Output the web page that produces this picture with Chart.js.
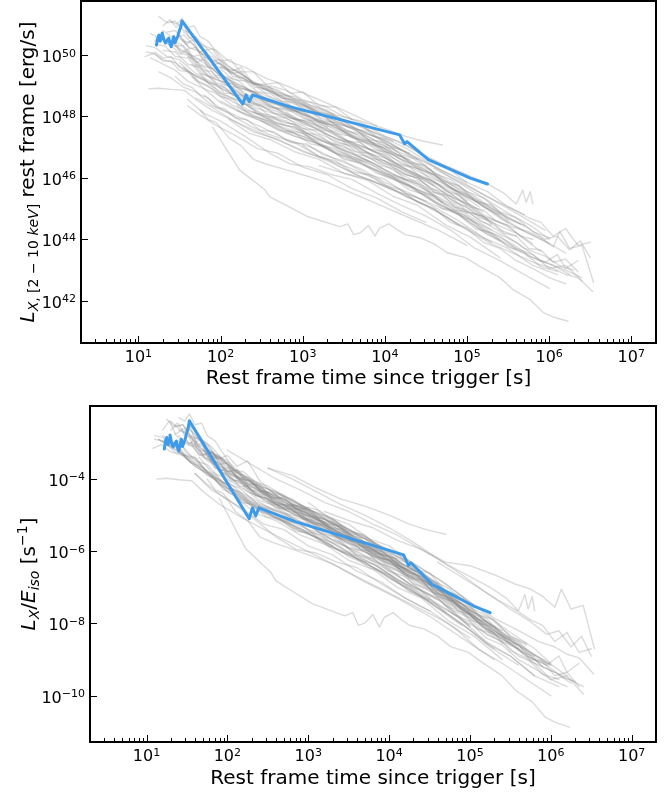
<!DOCTYPE html>
<html><head><meta charset="utf-8">
<script src="https://cdn.jsdelivr.net/npm/chart.js@4.4.1/dist/chart.umd.min.js"></script>
<style>body{margin:0;background:#fff}canvas{display:block}</style>
</head><body>
<canvas id="c1" width="671" height="400"></canvas>
<canvas id="c2" width="671" height="396"></canvas>
<script>
// ---------- axis ranges / ticks (log10 exponents) ----------
const xMin = 2, xMax = 2e7;
const xTickExps = [1, 2, 3, 4, 5, 6, 7];
const topYTickExps = [42, 44, 46, 48, 50];
const botYTickExps = [-10, -8, -6, -4];
const topYRange = [40.62, 51.76];
const botYRange = [-11.28, -1.98];

// ---------- highlighted burst (log10 t [s], log10 L [erg/s]) ----------
const blueLogT = [1.22,1.235,1.25,1.265,1.28,1.29,1.31,1.33,1.35,1.37,1.385,1.40,1.415,1.43,1.445,1.46,1.48,1.50,1.515,1.53,2.27,2.31,2.35,2.39,2.84,4.18,4.24,4.27,4.53,5.04,5.25];
const blueLogL = [50.33,50.55,50.65,50.45,50.54,50.72,50.50,50.39,50.48,50.55,50.35,50.27,50.45,50.60,50.40,50.49,50.62,50.81,50.90,51.11,48.40,48.70,48.48,48.70,48.32,47.40,47.11,47.18,46.59,45.99,45.80];
const blueLogE = 53.5; // log10 Eiso

// ---------- sample of bursts: log10 t, log10 L, log10 Eiso ----------
const greyLogT = [
 [1.30,1.42,1.55,1.70,1.85,2.00,2.25,2.50,2.80,3.10,3.40,3.70,4.00,4.20,4.40],
 [1.25,1.35,1.45,1.55,1.65,1.80,1.95,2.10,2.30,2.55,2.85,3.15,3.50,3.90],
 [1.10,1.20,1.35,1.50,1.70,1.90,2.15,2.40,2.70,3.00,3.35,3.70,4.05,4.40,4.80,5.05,5.30],
 [1.15,1.30,1.45,1.60,1.80,2.00,2.30,2.60,2.90,3.20,3.50,3.85,4.20,4.55,4.90,5.25,5.60],
 [1.13,1.25,1.40,1.56,1.70,1.90,2.20,2.50,2.90,3.30,3.70,4.10,4.50,4.90,5.30],
 [1.90,2.23,2.54,2.60,2.80,3.05,3.45,3.55,3.62,3.70,3.80,3.88,3.94,4.05,4.15,4.25,4.43,4.60,4.76,4.98,5.16,5.40,5.56,5.77,5.93,6.07,6.23],
 [1.75,1.85,1.95,2.10,2.25,2.40,2.55,2.75,3.00,3.30,3.60,3.95,4.30,4.65,5.00],
 [1.60,1.80,2.00,2.30,2.60,2.85,3.10,3.35,3.60,3.90,4.20,4.50,4.80,5.10,5.40,5.70,6.00],
 [1.45,1.60,1.75,1.90,2.10,2.35,2.65,3.00,3.35,3.70,4.05,4.40,4.75,5.10,5.45,5.75,6.00],
 [1.55,1.70,1.85,2.05,2.30,2.60,2.95,3.30,3.65,4.00,4.35,4.70,5.05,5.40,5.70,5.95,6.15,6.30],
 [1.35,1.45,1.55,1.65,1.75,1.90,2.05,2.20,2.40,2.60,2.85,3.10,3.40,3.70,4.00,4.30,4.65,5.00],
 [1.20,1.32,1.45,1.60,1.78,2.00,2.25,2.55,2.85,3.15,3.45,3.80,4.15,4.50,4.85,5.20,5.50,5.80],
 [1.70,1.90,2.10,2.40,2.70,3.00,3.30,3.65,4.00,4.35,4.70,5.00,5.30,5.60,5.85,6.05,6.20,6.35,6.53],
 [2.00,2.30,2.60,2.90,3.20,3.50,3.80,4.10,4.40,4.70,5.00,5.25,5.45,5.60,5.68,5.72,5.77,5.80],
 [1.08,1.18,1.30,1.45,1.60,1.80,2.05,2.35,2.65,3.00,3.35,3.70,4.00,4.30,4.60],
 [1.50,1.62,1.75,1.88,2.00,2.12,2.25,2.40,2.60,2.85,3.15,3.50,3.85,4.20,4.55,4.90,5.20,5.50],
 [1.65,1.80,1.95,2.15,2.40,2.70,3.00,3.30,3.60,3.90,4.25,4.60,4.95,5.30],
 [1.25,1.40,1.55,1.70,1.90,2.10,2.35,2.60,2.90,3.20,3.55,3.90,4.25,4.60,4.90],
 [2.30,2.50,2.75,3.00,3.30,3.60,3.90,4.20,4.50,4.80,5.10,5.40,5.70,5.95,6.20],
 [2.00,2.20,2.45,2.70,3.00,3.30,3.60,3.95,4.30,4.65,5.00,5.30,5.60,5.90],
 [2.60,2.80,3.00,3.25,3.50,3.75,4.00,4.25,4.50,4.75,5.00,5.25,5.50,5.70],
 [1.40,1.47,1.53,1.60,1.68,1.75,1.85,1.95,2.10,2.30,2.55,2.85,3.20,3.60,3.90,4.20],
 [1.50,1.65,1.80,2.00,2.25,2.50,2.80,3.10,3.45,3.80],
 [1.80,2.00,2.25,2.50,2.80,3.10,3.40,3.70,4.00,4.30,4.60,4.90,5.20,5.50,5.80,6.10],
 [1.30,1.45,1.60,1.75,1.95,2.15,2.40,2.70,3.00,3.30,3.60,3.95,4.30,4.65,5.00],
 [2.40,2.65,2.90,3.20,3.50,3.80,4.10,4.40,4.70,5.00,5.30,5.60,5.90,6.15,6.40],
 [2.50,2.80,3.10,3.40,3.70,4.00,4.25,4.46,4.70],
 [1.60,1.75,1.95,2.20,2.45,2.70,3.00,3.30,3.60,3.90,4.20,4.50],
 [2.10,2.35,2.60,2.90,3.20,3.50,3.80,4.10,4.40,4.75,5.05,5.40],
 [1.15,1.25,1.38,1.50,1.65,1.82,2.00,2.25,2.55,2.90,3.30],
 [3.00,3.25,3.50,3.75,4.00,4.30,4.60,4.90,5.20,5.50,5.80,6.00],
 [1.70,1.85,2.05,2.30,2.60,2.90,3.20,3.50,3.85,4.20,4.55,4.90,5.20],
 [2.20,2.50,2.80,3.10,3.40,3.70,4.00,4.30,4.60,4.90,5.20,5.50,5.75,5.95,6.10,6.20,6.35],
 [2.50,2.80,3.10,3.40,3.70,4.00,4.30,4.60,4.90,5.20,5.50,5.75,5.95,6.10,6.25,6.38,6.50],
 [3.20,3.50,3.80,4.10,4.40,4.70,5.00,5.30,5.55,5.75,5.90,6.05,6.13,6.25,6.40,6.54],
 [1.20,1.30,1.40,1.50,1.62,1.75,1.90,2.10,2.35,2.65,3.00,3.40,3.80,4.20,4.60,5.00],
 [1.85,2.00,2.20,2.45,2.75,3.05,3.35,3.65,3.95,4.30,4.65,5.00,5.35,5.65],
 [2.80,3.05,3.30,3.55,3.80,4.05,4.30,4.55,4.80,5.05,5.30,5.55,5.80,6.05,6.25],
 [1.40,1.52,1.65,1.80,1.98,2.20,2.45,2.75,3.05,3.40,3.75,4.10,4.45,4.80,5.15],
 [2.00,2.25,2.50,2.80,3.10,3.40,3.70,4.00,4.35,4.70,5.05,5.40],
 [1.55,1.68,1.80,1.95,2.15,2.40,2.70,3.00,3.30,3.65,4.00,4.40,4.80,5.20,5.60,5.95],
 [1.35,1.45,1.55,1.65,1.75,1.85,1.95,2.05,2.20,2.35,2.50,2.65,2.80,2.95,3.10,3.25,3.40,3.55,3.70,3.85,4.00,4.15,4.30],
 [1.60,1.70,1.80,1.90,2.00,2.15,2.30,2.45,2.60,2.80,3.00,3.20,3.40,3.60,3.80,4.00,4.20,4.40,4.60,4.80,5.00],
 [2.30,2.45,2.60,2.75,2.90,3.05,3.20,3.35,3.50,3.65,3.80,3.95,4.10,4.25,4.40,4.55,4.70,4.85,5.00,5.15,5.30],
 [1.20,1.28,1.36,1.44,1.52,1.60,1.70,1.80,1.92,2.05,2.20,2.40,2.60,2.85,3.10,3.40,3.70,4.00,4.30,4.60,4.90,5.20,5.50],
 [1.75,1.85,1.95,2.05,2.15,2.30,2.45,2.60,2.80,3.00,3.20,3.40,3.60,3.80,4.00,4.20,4.40,4.60,4.80,5.00,5.20,5.40,5.60],
 [2.00,2.15,2.30,2.45,2.60,2.75,2.90,3.05,3.20,3.40,3.60,3.80,4.00,4.20,4.40,4.60,4.80,5.00,5.20,5.40,5.60,5.80,6.00],
 [1.50,1.58,1.66,1.74,1.82,1.90,2.00,2.12,2.25,2.40,2.55,2.70,2.90,3.10,3.30,3.50,3.70,3.90,4.10],
 [2.50,2.70,2.90,3.10,3.30,3.50,3.70,3.90,4.10,4.30,4.50,4.70,4.90,5.10,5.30,5.50,5.70,5.90,6.10],
 [1.30,1.38,1.46,1.54,1.62,1.70,1.80,1.90,2.00,2.12,2.25,2.40,2.55,2.70,2.85,3.00,3.20,3.40,3.60],
 [2.80,2.95,3.10,3.25,3.40,3.55,3.70,3.85,4.00,4.15,4.30,4.45,4.60,4.75,4.90,5.05,5.20,5.35,5.50,5.65,5.80],
 [1.10,1.20,1.30,1.40,1.50,1.60,1.72,1.85,2.00,2.15,2.30,2.50,2.70,2.90,3.10,3.35,3.60,3.85,4.10,4.40,4.70],
 [3.50,3.65,3.80,3.95,4.10,4.25,4.40,4.55,4.70,4.85,5.00,5.15,5.30,5.45,5.60,5.75,5.90,6.05,6.20,6.35],
 [1.45,1.55,1.65,1.75,1.85,1.95,2.05,2.18,2.32,2.48,2.65,2.85,3.05,3.25,3.50,3.75,4.00,4.25,4.50],
 [2.10,2.25,2.40,2.55,2.70,2.85,3.00,3.20,3.40,3.60,3.80,4.00,4.20,4.40,4.60,4.80,5.00,5.20,5.40],
 [1.65,1.75,1.85,1.95,2.05,2.15,2.25,2.35,2.50,2.65,2.80,3.00,3.20,3.40,3.60,3.80,4.00,4.25,4.50,4.75,5.00,5.25],
 [3.00,3.20,3.40,3.60,3.80,4.00,4.20,4.40,4.60,4.80,5.00,5.20,5.40,5.60,5.80,6.00,6.20],
 [1.40,1.50,1.60,1.70,1.80,1.90,2.00,2.10,2.20,2.35,2.50,2.70,2.90,3.10,3.30],
 [2.20,2.40,2.60,2.80,3.00,3.20,3.40,3.60,3.80,4.00,4.20,4.40,4.60,4.80,5.00,5.20,5.40,5.60,5.80,6.00,6.20,6.40],
 [1.55,1.62,1.70,1.78,1.86,1.95,2.05,2.15,2.28,2.42,2.58,2.75,2.95,3.15,3.35,3.55,3.80,4.05,4.30],
 [3.30,3.50,3.70,3.90,4.10,4.30,4.50,4.70,4.90,5.10,5.30,5.50,5.70],
 [4.60,4.85,5.10,5.35,5.55,5.75,5.90,6.05,6.20,6.35,6.50]
];
const greyLogL = [
 [50.80,50.55,50.65,50.25,49.85,49.70,49.20,49.00,48.60,48.25,47.85,47.55,47.20,46.90,46.60],
 [51.25,51.05,51.10,50.80,50.70,50.30,50.15,49.80,49.60,49.25,48.95,48.60,48.20,47.70],
 [50.30,50.25,49.95,49.85,49.40,49.10,48.70,48.30,48.05,47.70,47.25,46.90,46.40,45.95,45.30,44.95,44.50],
 [49.90,49.70,49.50,49.15,48.90,48.45,48.05,47.75,47.35,47.10,46.65,46.30,45.85,45.30,44.80,44.15,43.65],
 [48.90,48.92,48.88,48.85,48.55,48.20,47.80,47.45,47.00,46.55,46.05,45.60,45.10,44.50,43.90],
 [47.66,46.26,45.61,45.38,45.10,44.75,44.41,44.50,44.15,44.21,44.45,44.10,44.37,44.50,44.31,44.15,44.05,43.85,43.56,43.40,43.11,42.75,42.36,42.03,41.61,41.45,41.33],
 [48.20,47.90,47.80,47.30,47.05,46.60,46.45,46.30,46.10,45.85,45.50,45.10,44.70,44.30,43.80],
 [48.55,48.10,47.85,47.35,46.80,46.45,46.35,46.10,45.95,45.50,45.10,44.75,44.30,43.70,43.30,42.85,42.40],
 [50.30,50.05,49.70,49.55,49.10,48.85,48.40,48.15,47.70,47.25,46.80,46.35,45.75,45.25,44.60,44.20,43.85],
 [49.60,49.30,49.10,48.70,48.40,47.95,47.70,47.20,46.85,46.40,45.90,45.40,44.80,44.25,43.70,43.45,43.10,43.00],
 [50.75,50.80,50.45,50.40,50.05,49.95,49.55,49.50,49.10,48.95,48.60,48.45,48.00,47.70,47.30,46.90,46.30,45.85],
 [50.35,50.30,49.95,49.90,49.40,49.15,48.70,48.45,47.95,47.75,47.30,46.95,46.45,45.95,45.50,44.80,44.40,43.85],
 [48.60,48.30,47.95,47.50,47.25,46.85,46.60,46.10,45.75,45.30,44.80,44.30,43.85,43.50,43.20,43.05,42.85,42.75,42.30],
 [49.60,49.20,48.80,48.50,48.15,47.90,47.55,47.25,46.85,46.45,46.10,45.80,45.50,45.15,45.60,45.20,45.55,45.15],
 [49.95,50.05,49.85,49.75,49.45,49.20,48.85,48.45,48.20,47.80,47.35,46.95,46.55,46.15,45.75],
 [50.55,50.25,50.10,49.65,49.75,49.45,49.60,49.05,48.65,48.35,48.05,47.60,47.15,46.70,46.25,45.60,45.15,44.65],
 [49.30,48.90,48.75,48.35,48.05,47.70,47.45,47.00,46.70,46.35,45.80,45.40,44.75,44.30],
 [49.45,49.25,48.95,48.80,48.35,48.10,47.70,47.40,47.15,46.70,46.35,45.95,45.40,45.00,44.45],
 [48.90,48.55,48.40,48.05,47.80,47.35,47.05,46.60,46.25,45.70,45.25,44.75,44.25,43.95,43.55],
 [49.00,48.70,48.40,48.05,47.85,47.40,47.10,46.60,46.20,45.65,45.10,44.55,44.20,43.60],
 [49.00,48.85,48.55,48.35,48.00,47.75,47.35,47.10,46.65,46.35,45.85,45.55,45.05,44.80],
 [51.10,51.00,51.20,50.90,50.95,50.60,50.45,50.10,49.60,49.30,48.90,48.45,48.10,47.60,47.20,46.90],
 [49.75,49.40,49.20,48.75,48.50,48.05,47.85,47.40,47.00,46.55],
 [48.70,48.25,47.95,47.65,47.25,47.00,46.60,46.30,45.85,45.50,45.05,44.60,44.05,43.70,43.15,42.85],
 [50.15,50.10,49.70,49.60,49.10,48.95,48.45,48.25,47.80,47.60,47.10,46.80,46.20,45.80,45.10],
 [48.15,47.80,47.65,47.25,46.90,46.55,46.10,45.80,45.25,44.80,44.30,43.90,43.30,43.05,42.75],
 [48.90,48.70,48.35,48.05,47.85,47.60,47.35,47.20,47.07],
 [48.35,48.05,47.70,47.35,46.95,46.80,46.35,46.10,45.65,45.35,44.90,44.55],
 [47.90,47.45,47.25,46.85,46.60,46.15,45.90,45.40,45.10,44.45,44.05,43.40],
 [50.70,50.55,50.50,50.15,50.00,49.70,49.35,49.00,48.60,48.20,47.75],
 [48.45,48.05,47.85,47.45,47.25,46.75,46.35,45.85,45.35,44.85,44.40,44.00],
 [49.70,49.30,49.10,48.60,48.35,47.95,47.70,47.25,46.90,46.35,45.95,45.30,44.90],
 [48.20,47.85,47.45,47.20,46.80,46.50,46.05,45.75,45.20,44.80,44.25,43.85,43.45,43.25,43.50,43.05,43.30],
 [48.60,48.30,47.95,47.60,47.30,46.95,46.55,46.10,45.65,45.15,44.70,44.35,44.00,44.10,43.65,43.95,43.40],
 [46.40,46.15,45.95,45.60,45.35,45.00,44.90,44.65,44.40,44.25,44.05,43.75,44.25,43.70,43.80,42.60],
 [50.10,49.90,49.95,49.60,49.45,49.10,48.90,48.55,48.20,47.85,47.50,47.00,46.55,46.00,45.45,44.85],
 [49.95,49.70,49.35,49.00,48.60,48.30,47.85,47.55,47.10,46.70,46.10,45.55,44.95,44.50],
 [47.55,47.30,46.95,46.70,46.35,46.10,45.75,45.40,45.05,44.65,44.20,43.85,43.40,43.15,42.85],
 [50.45,50.35,49.90,49.85,49.35,49.05,48.75,48.30,48.05,47.55,47.15,46.65,46.15,45.70,45.05],
 [48.50,48.15,47.90,47.55,47.25,46.80,46.55,46.10,45.65,45.10,44.60,43.95],
 [50.75,50.45,50.30,49.90,49.55,49.10,48.85,48.40,48.10,47.60,47.20,46.65,46.10,45.45,44.85,44.30],
 [50.55,50.30,50.30,49.95,50.00,49.60,49.55,49.30,49.20,48.85,48.75,48.55,48.45,48.20,48.15,47.85,47.80,47.50,47.40,47.15,47.05,46.75,46.60],
 [49.95,49.80,49.50,49.45,49.15,49.05,48.70,48.65,48.30,48.25,47.95,47.80,47.45,47.35,46.95,46.85,46.45,46.30,45.85,45.65,45.25],
 [48.40,48.10,48.05,47.80,47.75,47.45,47.40,47.10,47.05,46.75,46.70,46.40,46.30,45.95,45.90,45.55,45.45,45.05,44.95,44.60,44.45],
 [50.45,50.70,50.35,50.45,50.05,50.20,49.75,49.85,49.35,49.30,48.95,48.80,48.45,48.30,47.90,47.70,47.20,46.95,46.40,46.10,45.50,45.10,44.55],
 [49.40,49.10,49.05,48.75,48.75,48.40,48.35,48.00,47.95,47.60,47.55,47.15,47.05,46.65,46.55,46.15,46.00,45.55,45.40,44.90,44.75,44.30,44.10],
 [49.55,49.20,49.15,48.80,48.75,48.50,48.45,48.15,48.10,47.75,47.65,47.25,47.15,46.75,46.60,46.15,45.95,45.55,45.35,44.90,44.70,44.25,44.05],
 [50.65,50.35,50.50,50.10,50.15,49.80,49.85,49.40,49.45,49.05,49.05,48.70,48.65,48.35,48.20,47.85,47.75,47.35,47.20],
 [47.85,47.55,47.45,47.10,47.00,46.60,46.50,46.15,46.00,45.60,45.45,45.00,44.80,44.35,44.20,43.75,43.55,43.10,42.95],
 [50.95,51.15,50.90,51.05,50.55,50.60,50.15,50.20,49.80,49.85,49.45,49.45,49.05,49.10,48.75,48.80,48.35,48.30,47.90],
 [48.15,47.90,47.85,47.55,47.50,47.20,47.15,46.85,46.75,46.45,46.35,46.00,45.90,45.55,45.45,45.05,44.95,44.60,44.45,44.10,44.00],
 [50.10,50.05,49.80,49.80,49.50,49.45,49.15,49.00,48.65,48.55,48.20,48.05,47.75,47.65,47.30,47.10,46.70,46.50,46.10,45.80,45.20],
 [47.15,46.85,46.80,46.50,46.40,46.10,46.00,45.65,45.55,45.20,45.05,44.70,44.60,44.20,44.10,43.70,43.65,43.25,43.35,42.95],
 [49.30,49.05,48.95,48.70,48.60,48.30,48.25,47.95,47.90,47.55,47.50,47.15,47.10,46.75,46.55,46.15,45.95,45.50,45.25],
 [49.20,48.90,48.80,48.50,48.45,48.20,48.15,47.80,47.70,47.30,47.20,46.85,46.70,46.30,46.10,45.65,45.45,45.05,44.80],
 [49.70,49.40,49.30,49.05,48.95,48.70,48.70,48.45,48.35,48.10,48.05,47.75,47.60,47.25,47.15,46.80,46.65,46.20,45.95,45.45,45.15,44.65],
 [47.05,46.70,46.55,46.20,46.10,45.75,45.60,45.20,45.00,44.55,44.35,43.90,43.70,43.30,43.05,42.75,42.55],
 [50.30,50.05,50.00,49.70,49.60,49.30,49.25,49.00,48.95,48.65,48.55,48.25,48.15,47.85,47.65],
 [48.35,48.00,47.85,47.55,47.45,47.10,46.95,46.65,46.50,46.15,45.95,45.60,45.40,44.95,44.75,44.30,44.10,43.70,43.50,43.05,43.15,42.65],
 [50.50,50.20,50.25,49.90,49.95,49.60,49.60,49.30,49.25,48.95,48.90,48.60,48.50,48.15,48.05,47.65,47.50,47.05,46.80],
 [47.90,47.55,47.45,47.05,46.95,46.50,46.40,45.90,45.75,45.25,45.10,44.65,44.45],
 [46.30,45.95,45.60,45.25,45.00,44.70,44.55,44.10,44.35,43.80,43.90]
];
const greyLogE = [53.2,53.6,53.2,52.8,52.9,52.2,52.2,52.4,53.0,52.6,53.3,53.3,51.7,52.8,53.1,53.1,52.7,52.5,53.0,52.8,53.4,53.4,52.7,52.6,53.2,52.5,52.6,52.2,52.4,53.6,53.1,52.9,52.4,52.3,51.3,52.9,53.3,52.5,53.1,52.5,53.4,
 53.3,53.0,52.7,53.1,52.8,53.2,53.4,52.5,53.6,52.9,52.9,52.7,52.6,53.0,52.9,52.3,53.1,52.6,53.3,53.0,52.6];

// ---------- drawing ----------
const FONT = "'DejaVu Sans', sans-serif";
const GREY = 'rgba(135,135,135,0.30)';
const BLUE = '#3d9be9';

function pts(ts, ls, shift) {
  return ts.map((t, j) => ({ x: Math.pow(10, t), y: Math.pow(10, ls[j] - shift) }));
}

function drawPow(ctx, exp, x, y, align) {
  const base = '10';
  const e = String(exp).replace('-', '\u2212');
  ctx.font = '16px ' + FONT; const w1 = ctx.measureText(base).width;
  ctx.font = '11px ' + FONT; const w2 = ctx.measureText(e).width;
  const tot = w1 + w2;
  const x0 = align === 'center' ? x - tot / 2 : x - tot;
  ctx.textAlign = 'left'; ctx.textBaseline = 'alphabetic';
  ctx.font = '16px ' + FONT; ctx.fillText(base, x0, y);
  ctx.font = '11px ' + FONT; ctx.fillText(e, x0 + w1, y - 5.5);
}

function drawRich(ctx, segs, bx, cy) {
  ctx.save();
  ctx.translate(bx, cy); ctx.rotate(-Math.PI / 2);
  ctx.textAlign = 'left'; ctx.textBaseline = 'alphabetic';
  let tot = 0;
  segs.forEach(s => { ctx.font = s.f; s.w = ctx.measureText(s.t).width; tot += s.w; });
  let x = -tot / 2;
  segs.forEach(s => { ctx.font = s.f; ctx.fillText(s.t, x, s.dy || 0); x += s.w; });
  ctx.restore();
}

function axesPlugin(cfg) {
  return {
    id: 'mplAxes',
    afterDraw(chart) {
      const { ctx, chartArea: a } = chart;
      const xs = chart.scales.x, ys = chart.scales.y;
      ctx.save();
      ctx.strokeStyle = '#000'; ctx.fillStyle = '#000'; ctx.lineWidth = 1;
      for (let e = 0; e <= 7; e++) {
        for (let m = 1; m <= 9; m++) {
          const v = m * Math.pow(10, e);
          if (v < xMin || v > xMax) continue;
          const px = Math.round(xs.getPixelForValue(v)) + 0.5;
          const len = m === 1 ? 7 : 4;
          ctx.beginPath(); ctx.moveTo(px, a.bottom); ctx.lineTo(px, a.bottom - len); ctx.stroke();
        }
      }
      cfg.yTicks.forEach(e => {
        const py = Math.round(ys.getPixelForValue(Math.pow(10, e))) + 0.5;
        ctx.beginPath(); ctx.moveTo(a.left, py); ctx.lineTo(a.left + 7, py); ctx.stroke();
      });
      ctx.lineWidth = 2;
      ctx.strokeRect(a.left, a.top, a.right - a.left, a.bottom - a.top);
      xTickExps.forEach(e => drawPow(ctx, e, xs.getPixelForValue(Math.pow(10, e)), a.bottom + 19, 'center'));
      cfg.yTicks.forEach(e => drawPow(ctx, e, a.left - 5, ys.getPixelForValue(Math.pow(10, e)) + 7, 'right'));
      ctx.font = '20px ' + FONT; ctx.textAlign = 'center'; ctx.textBaseline = 'alphabetic';
      ctx.fillText('Rest frame time since trigger [s]', (a.left + a.right) / 2, a.bottom + cfg.xTitleDy);
      drawRich(ctx, cfg.yTitle, cfg.yTitleX, (a.top + a.bottom) / 2);
      ctx.restore();
    }
  };
}

function makeChart(id, cfg) {
  const shiftOf = i => cfg.bottom ? greyLogE[i] : 0;
  const datasets = [{
    data: pts(blueLogT, blueLogL, cfg.bottom ? blueLogE : 0),
    borderColor: BLUE, borderWidth: 3, order: 0
  }];
  greyLogT.forEach((ts, i) => datasets.push({
    data: pts(ts, greyLogL[i], shiftOf(i)),
    borderColor: GREY, borderWidth: 1.4, order: 1
  }));
  return new Chart(document.getElementById(id), {
    type: 'line',
    data: { datasets },
    options: {
      responsive: false, animation: false, devicePixelRatio: 1,
      layout: { padding: cfg.pad },
      plugins: { legend: { display: false }, tooltip: { enabled: false } },
      elements: { point: { radius: 0 }, line: { tension: 0, borderJoinStyle: 'round', borderCapStyle: 'round' } },
      scales: {
        x: { type: 'logarithmic', min: xMin, max: xMax, display: false },
        y: { type: 'logarithmic', min: Math.pow(10, cfg.yr[0]), max: Math.pow(10, cfg.yr[1]), display: false }
      }
    },
    plugins: [axesPlugin(cfg)]
  });
}

const it20 = 'italic 20px ' + FONT, it14 = 'italic 14px ' + FONT, n20 = '20px ' + FONT, n14 = '14px ' + FONT;

makeChart('c1', {
  bottom: false, yr: topYRange, yTicks: topYTickExps,
  pad: { left: 81, right: 15, top: 1, bottom: 57 },
  xTitleDy: 41, yTitleX: 33.5,
  yTitle: [
    { t: 'L', f: it20 }, { t: 'X', f: it14, dy: 4 }, { t: ', [2 \u2212 10 ', f: n14, dy: 4 },
    { t: 'keV', f: it14, dy: 4 }, { t: ']', f: n14, dy: 4 }, { t: ' rest frame [erg/s]', f: n20 }
  ]
});
makeChart('c2', {
  bottom: true, yr: botYRange, yTicks: botYTickExps,
  pad: { left: 90, right: 15, top: 6, bottom: 54 },
  xTitleDy: 42, yTitleX: 35,
  yTitle: [
    { t: 'L', f: it20 }, { t: 'X', f: it14, dy: 4 }, { t: '/', f: n20 }, { t: 'E', f: it20 },
    { t: 'iso', f: it14, dy: 4 }, { t: ' [s', f: n20 }, { t: '\u22121', f: n14, dy: -8 }, { t: ']', f: n20 }
  ]
});
</script>
</body></html>
